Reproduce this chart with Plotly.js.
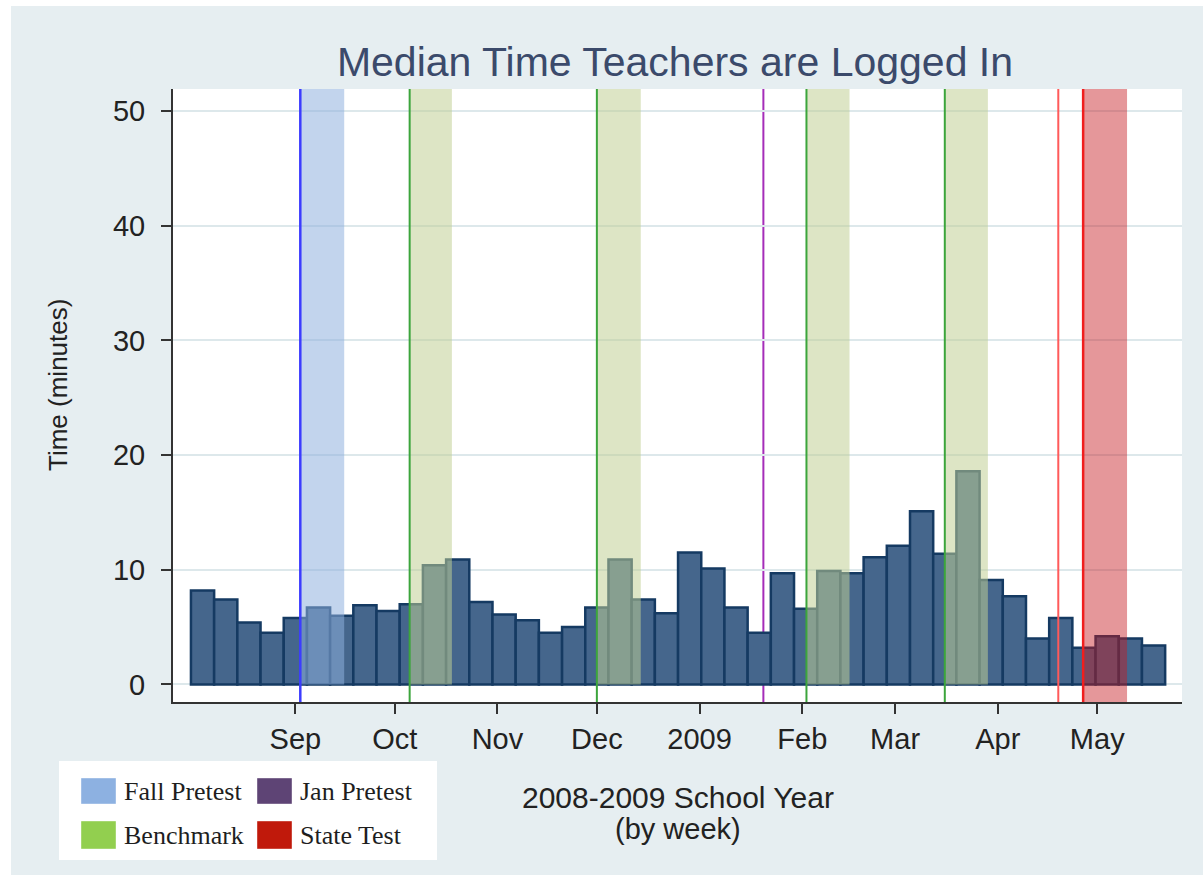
<!DOCTYPE html>
<html>
<head>
<meta charset="utf-8">
<script src="https://cdn.plot.ly/plotly-3.0.1.min.js"></script>
<style>
  html, body { margin: 0; padding: 0; background: #ffffff; width: 1203px; height: 875px; overflow: hidden; }
  #chart { position: absolute; left: 11px; top: 6px; width: 1192px; height: 869px; }
</style>
</head>
<body>
<div id="chart"></div>
<script>
// ---------------- DATA ----------------
const weekDates = [
  '2008-08-04','2008-08-11','2008-08-18','2008-08-25',
  '2008-09-01','2008-09-08','2008-09-15','2008-09-22','2008-09-29',
  '2008-10-06','2008-10-13','2008-10-20','2008-10-27',
  '2008-11-03','2008-11-10','2008-11-17','2008-11-24',
  '2008-12-01','2008-12-08','2008-12-15','2008-12-22','2008-12-29',
  '2009-01-05','2009-01-12','2009-01-19','2009-01-26',
  '2009-02-02','2009-02-09','2009-02-16','2009-02-23',
  '2009-03-02','2009-03-09','2009-03-16','2009-03-23','2009-03-30',
  '2009-04-06','2009-04-13','2009-04-20','2009-04-27',
  '2009-05-04','2009-05-11','2009-05-18'
];
const medianMinutes = [
  8.2, 7.4, 5.4, 4.5,
  5.8, 6.7, 6.0, 6.9, 6.4,
  7.0, 10.4, 10.9, 7.2,
  6.1, 5.6, 4.5, 5.0,
  6.7, 10.9, 7.4, 6.2, 11.5,
  10.1, 6.7, 4.5, 9.7,
  6.6, 9.9, 9.7, 11.1,
  12.1, 15.1, 11.4, 18.6, 9.1,
  7.7, 4.0, 5.8, 3.2,
  4.2, 4.0, 3.4
];
const monthTickDates = ['2008-09-01','2008-10-01','2008-11-01','2008-12-01','2009-01-01','2009-02-01','2009-03-01','2009-04-01','2009-05-01'];
const monthTickLabels = ['Sep','Oct','Nov','Dec','2009','Feb','Mar','Apr','May'];
const yTickValues = [0, 10, 20, 30, 40, 50];

// testing windows
const fallPretestStart = ['2008-09-02 12:00'];
const fallPretestEnd   = ['2008-09-15 18:00'];
const benchmarkStart = ['2008-10-05 12:00','2008-12-01 00:00','2009-02-02 06:00','2009-03-16 00:00'];
const benchmarkEnd   = ['2008-10-18 06:00','2008-12-14 06:00','2009-02-15 06:00','2009-03-29 00:00'];
const janPretestDates = ['2009-01-20 06:00'];
const stateTestLineDates = ['2009-04-19 06:00'];
const stateTestStart = ['2009-04-26 18:00'];
const stateTestEnd   = ['2009-05-10 00:00'];

const legendLabels = ['Fall Pretest','Jan Pretest','Benchmark','State Test'];
const legendColors = ['#8db1e1','#5e4475','#92cf4f','#c0190b'];

// ---------------- STYLE / LAYOUT ----------------
const X_RANGE = ['2008-07-26 02:00','2009-05-26 14:00'];
const Y_RANGE = [-1.53, 51.92];
// plot area in page pixels (div is offset by 11,6)
const PL = 173, PT = 89, PR = 1182, PB = 702;
const PW = PR - PL, PH = PB - PT;
const xp = px => (px - PL) / PW;
const yp = py => (PB - py) / PH;

const shapes = [];
// Jan pretest line (drawn beneath the bars)
janPretestDates.forEach(d => shapes.push({
  type: 'line', layer: 'below', xref: 'x', yref: 'paper', x0: d, x1: d, y0: 0, y1: 1,
  line: { color: 'rgb(165,45,185)', width: 2 }
}));
// Fall pretest
fallPretestStart.forEach((d, i) => {
  shapes.push({ type: 'rect', layer: 'above', xref: 'x', yref: 'y', x0: d, x1: fallPretestEnd[i], y0: 0, y1: Y_RANGE[1],
    fillcolor: 'rgb(143,176,222)', opacity: 0.54, line: { width: 0 } });
  shapes.push({ type: 'line', layer: 'above', xref: 'x', yref: 'paper', x0: d, x1: d, y0: 0, y1: 1,
    line: { color: 'rgb(60,60,255)', width: 2.5 } });
});
// Benchmarks
benchmarkStart.forEach((d, i) => {
  shapes.push({ type: 'rect', layer: 'above', xref: 'x', yref: 'y', x0: d, x1: benchmarkEnd[i], y0: 0, y1: Y_RANGE[1],
    fillcolor: 'rgb(192,207,148)', opacity: 0.54, line: { width: 0 } });
  shapes.push({ type: 'line', layer: 'above', xref: 'x', yref: 'paper', x0: d, x1: d, y0: 0, y1: 1,
    line: { color: 'rgb(60,165,60)', width: 2 } });
});
// State test
stateTestLineDates.forEach(d => shapes.push({
  type: 'line', layer: 'above', xref: 'x', yref: 'paper', x0: d, x1: d, y0: 0, y1: 1,
  line: { color: 'rgb(255,90,90)', width: 2 }
}));
stateTestStart.forEach((d, i) => {
  shapes.push({ type: 'rect', layer: 'above', xref: 'x', yref: 'paper', x0: d, x1: stateTestEnd[i], y0: 0, y1: 1,
    fillcolor: 'rgb(198,25,30)', opacity: 0.45, line: { width: 0 } });
  shapes.push({ type: 'line', layer: 'above', xref: 'x', yref: 'paper', x0: d, x1: d, y0: 0, y1: 1,
    line: { color: 'rgb(240,30,30)', width: 2.5 } });
});

// Legend box (drawn manually to mimic Stata's legend)
shapes.push({ type: 'rect', layer: 'above', xref: 'paper', yref: 'paper',
  x0: xp(59), x1: xp(437), y0: yp(860), y1: yp(761), fillcolor: '#ffffff', line: { width: 0 } });
const legendSwatchX = [81, 257], legendTextX = [122, 298];
const legendSwatchTop = [778, 821], legendSwatchBot = [804, 849], legendTextY = [791, 835];
const annotations = [];
legendLabels.forEach((lab, i) => {
  const c = i % 2, r = Math.floor(i / 2);
  shapes.push({ type: 'rect', layer: 'above', xref: 'paper', yref: 'paper',
    x0: xp(legendSwatchX[c]), x1: xp(legendSwatchX[c] + 35),
    y0: yp(legendSwatchBot[r]), y1: yp(legendSwatchTop[r]),
    fillcolor: legendColors[i], line: { width: 0.8, color: 'rgba(255,255,255,0.5)' } });
  annotations.push({ xref: 'paper', yref: 'paper', x: xp(legendTextX[c]), y: yp(legendTextY[r]),
    xanchor: 'left', yanchor: 'middle', showarrow: false, text: lab,
    font: { family: 'Liberation Serif, Times New Roman, serif', size: 26, color: '#1e1e1e' } });
});
// axis titles
annotations.push({ xref: 'paper', yref: 'paper', x: xp(58), y: yp(385), textangle: -90,
  xanchor: 'center', yanchor: 'middle', showarrow: false, text: 'Time (minutes)',
  font: { family: 'Liberation Sans, Arial, sans-serif', size: 26, color: '#222222' } });
annotations.push({ xref: 'paper', yref: 'paper', x: 0.5, y: yp(798),
  xanchor: 'center', yanchor: 'middle', showarrow: false, text: '2008-2009 School Year',
  font: { family: 'Liberation Sans, Arial, sans-serif', size: 30, color: '#222222' } });
annotations.push({ xref: 'paper', yref: 'paper', x: 0.5, y: yp(829),
  xanchor: 'center', yanchor: 'middle', showarrow: false, text: '(by week)',
  font: { family: 'Liberation Sans, Arial, sans-serif', size: 29, color: '#222222' } });

const trace = {
  type: 'bar',
  x: weekDates,
  y: medianMinutes,
  width: 7 * 24 * 3600 * 1000,
  marker: { color: '#45668c', line: { color: '#153a62', width: 2.5 } },
  hoverinfo: 'x+y',
  showlegend: false
};

const layout = {
  width: 1192, height: 869,
  margin: { l: PL - 11, r: 1203 - PR, t: PT - 6, b: 875 - PB, pad: 0 },
  paper_bgcolor: '#e6eef1',
  plot_bgcolor: '#ffffff',
  showlegend: false,
  bargap: 0,
  title: {
    text: 'Median Time Teachers are Logged In',
    font: { family: 'Liberation Sans, Arial, sans-serif', size: 41, color: '#3b4a6b' },
    xref: 'paper', x: 0.4975, xanchor: 'center',
    yref: 'container', y: 1 - (62 - 6) / 869, yanchor: 'middle'
  },
  xaxis: {
    type: 'date',
    range: X_RANGE,
    tickmode: 'array',
    tickvals: monthTickDates,
    ticktext: monthTickLabels,
    ticks: 'outside', ticklen: 10, tickwidth: 2, tickcolor: '#333333',
    showgrid: false, zeroline: false,
    showline: true, linecolor: '#333333', linewidth: 2,
    tickfont: { family: 'Liberation Sans, Arial, sans-serif', size: 29, color: '#222222' },
    fixedrange: true
  },
  yaxis: {
    range: Y_RANGE,
    tickmode: 'array',
    tickvals: yTickValues,
    ticks: 'outside', ticklen: 10, tickwidth: 2, tickcolor: '#333333',
    ticklabelstandoff: 10,
    showgrid: true, gridcolor: '#dde8eb', gridwidth: 2,
    zeroline: false,
    showline: true, linecolor: '#333333', linewidth: 2,
    tickfont: { family: 'Liberation Sans, Arial, sans-serif', size: 29, color: '#222222' },
    fixedrange: true
  },
  shapes: shapes,
  annotations: annotations
};

Plotly.newPlot('chart', [trace], layout, { displayModeBar: false, staticPlot: true });
</script>
</body>
</html>
